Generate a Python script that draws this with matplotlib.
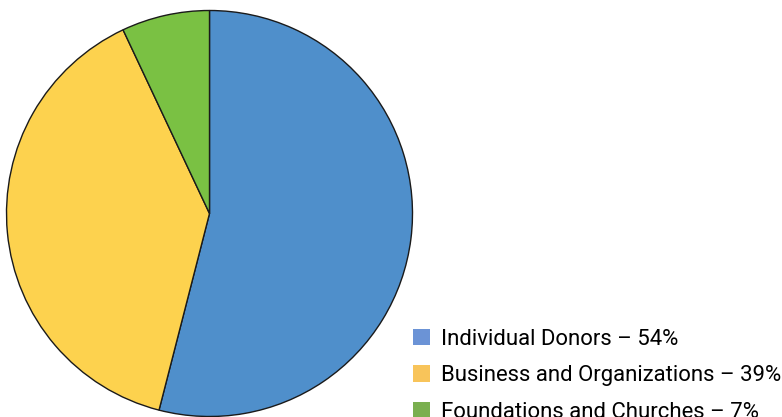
import matplotlib
matplotlib.use('Agg')
import matplotlib.pyplot as plt
from matplotlib.patches import Patch

# Data
labels = ['Individual Donors \u2013 54%', 'Business and Organizations \u2013 39%', 'Foundations and Churches \u2013 7%']
shares = [54, 39, 7]
pie_colors = ['#4F8FCB', '#FDD24E', '#7AC143']
legend_colors = ['#6B93D6', '#F8C45A', '#7AAF4F']

fig = plt.figure(figsize=(7.82, 4.17), dpi=100)
ax = fig.add_axes([6.5 / 782, 0.5 / 417, 406 / 782, 406 / 417])
ax.pie(shares, colors=pie_colors, startangle=90, counterclock=False,
       wedgeprops=dict(edgecolor='#1a1a1a', linewidth=1.0))
ax.set_xlim(-1, 1)
ax.set_ylim(-1, 1)
ax.set_aspect('auto')

handles = [Patch(facecolor=c, edgecolor='none') for c in legend_colors]
fig.legend(handles, labels, loc='upper left', bbox_to_anchor=(393 / 782, 1 - 309 / 417),
           frameon=False, prop={'family': 'Roboto', 'size': 15.9},
           handlelength=0.78, handleheight=0.78, handletextpad=0.5, labelspacing=0.7)

fig.savefig('out.png', dpi=100)
